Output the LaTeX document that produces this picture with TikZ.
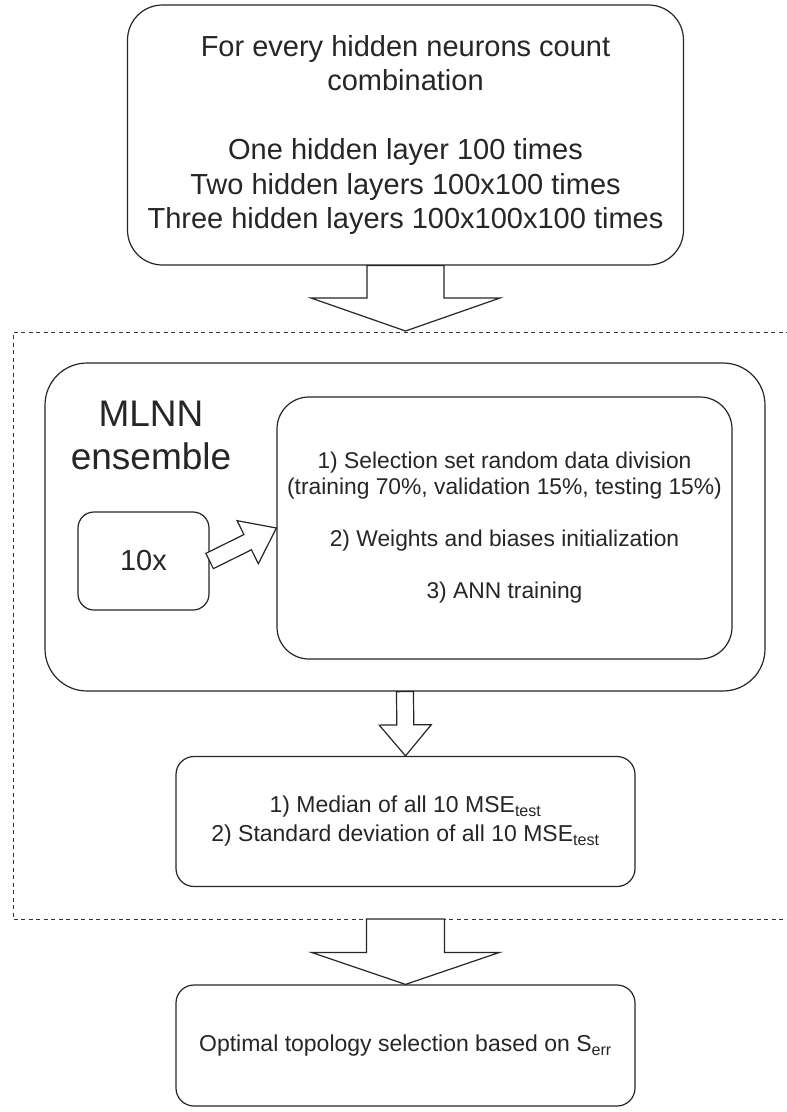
\documentclass[tikz,border=0pt]{standalone}
\usepackage{fontspec}
\setmainfont{Liberation Sans}
\usetikzlibrary{calc}
\newcommand\blockarr[5]{%
  \coordinate (ba-b) at ($(#2)!#5!(#1)$);
  \draw[blockarrow] ($(#1)!#3!90:(#2)$) -- ($(ba-b)!#3!90:(#2)$) -- ($(ba-b)!#4!90:(#2)$) -- (#2)
     -- ($(ba-b)!#4!-90:(#2)$) -- ($(ba-b)!#3!-90:(#2)$) -- ($(#1)!#3!-90:(#2)$) -- cycle;
}
\begin{document}
\begin{tikzpicture}[x=1pt,y=-1pt,
  rbox/.style={draw=black!85,line width=1.2pt,rectangle,fill=white,inner sep=0pt,align=center,text=black!85},
  blockarrow/.style={draw=black!85,line width=1.2pt,fill=white,line join=miter},
  dashedframe/.style={draw=black!80,line width=1pt,dash pattern=on 4pt off 3.5pt}]
\useasboundingbox (0,0) rectangle (787,1112);

\draw[dashedframe] (790,332) -- (13,332) -- (13,919) -- (790,919);

\node[rbox, minimum width=556pt, minimum height=260pt, rounded corners=35pt,
      font=\fontsize{29}{34.5}\selectfont] (top) at (405.5,135)
  {For every hidden neurons count\\combination\\[34.5pt]One hidden layer 100 times\\Two hidden layers 100x100 times\\Three hidden layers 100x100x100 times};

\node[rbox, minimum width=720pt, minimum height=328pt, rounded corners=42pt] (outer) at (405,527) {};

\node[align=center, text=black!85, font=\fontsize{37}{43}\selectfont] (mlnn) at (151,435) {MLNN\\ensemble};

\node[rbox, minimum width=455pt, minimum height=262pt, rounded corners=32pt,
      font=\fontsize{22.8}{26}\selectfont] (inner) at (504.5,528)
  {1) Selection set random data division\\(training 70\%, validation 15\%, testing 15\%)\\[26pt]2) Weights and biases initialization\\[26pt]3) ANN training};

\node[rbox, minimum width=131pt, minimum height=98pt, rounded corners=16pt,
      font=\fontsize{29}{34}\selectfont] (ten) at (143.5,561) {10x};

\node[rbox, minimum width=459pt, minimum height=130pt, rounded corners=18pt,
      font=\fontsize{23}{29}\selectfont] (median) at (405.5,821.5)
  {1) Median of all 10 MSE\textsubscript{test}\\2) Standard deviation of all 10 MSE\textsubscript{test}};

\node[rbox, minimum width=459pt, minimum height=121pt, rounded corners=18pt,
      font=\fontsize{23}{27}\selectfont] (final) at (405.5,1045.5)
  {Optimal topology selection based on S\textsubscript{err}};

\coordinate (t1) at (405.5,331);
\blockarr{top.south}{t1}{38.5pt}{94.5pt}{33pt}
\blockarr{ten.east}{inner.west}{8.5pt}{24pt}{32pt}
\blockarr{outer.south}{median.north}{8.5pt}{26pt}{31pt}
\coordinate (b0) at (405.5,919);
\blockarr{b0}{final.north}{39pt}{94pt}{32pt}
\end{tikzpicture}
\end{document}
